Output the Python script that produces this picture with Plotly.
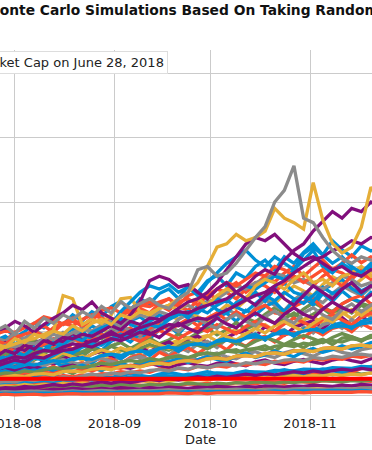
import pandas as pd
import plotly.graph_objects as go

# ---- data (values in billions of USD) ----
dates = pd.date_range("2018-07-26", periods=41, freq="3D")
month_ticks = ["2018-08-01", "2018-09-01", "2018-10-01", "2018-11-01"]
month_labels = ["2018-08", "2018-09", "2018-10", "2018-11"]
market_cap_june28 = 26

# low band
L1 = [22,24,23,27,25,28,26,31,29,32,30,34,33,37,35,38,36,41,39,42,40,45,43,46,44,49,47,50,48,53,51,54,52,57,55,58,56,61,59,62,60]
L2 = [18,19,21,20,21,23,22,24,24,26,24,27,27,26,29,29,28,31,31,30,33,33,32,35,35,34,37,37,36,39,39,38,41,41,40,43,43,42,45,45,44]
L3 = [14,15,14,17,15,17,16,19,17,19,18,21,19,21,20,23,21,23,22,25,23,25,24,27,25,27,26,29,27,29,28,31,29,31,30,33,31,33,32,35,33]
L4 = [12,11,13,12,14,13,15,14,13,15,14,16,15,17,16,15,17,16,18,17,19,18,17,19,18,20,19,21,20,19,21,20,22,21,23,22,21,23,22,24,23]
L5 = [8,9,8,10,9,8,10,9,11,10,9,11,10,12,11,10,12,11,13,12,11,13,12,14,13,12,14,13,15,14,13,15,14,16,15,14,16,15,17,16,15]
L6 = [5,6,5,6,7,6,5,6,7,6,7,8,7,6,7,8,7,8,9,8,7,8,9,8,9,10,9,8,9,10,9,10,11,10,9,10,11,10,11,12,11]
L7 = [3,3,4,3,4,4,3,4,5,4,4,5,4,5,5,4,5,6,5,5,6,5,6,6,5,6,7,6,6,7,6,7,7,6,7,8,7,7,8,7,8]
L8 = [1,2,1,2,2,1,2,2,3,2,2,3,2,3,3,2,3,3,4,3,3,4,3,4,4,3,4,4,5,4,4,5,4,5,5,4,5,5,6,5,5]
L9 = [30,32,31,35,33,36,34,39,37,40,38,43,44,42,47,45,48,51,49,52,55,53,57,58,56,61,62,60,65,66,64,69,70,68,73,74,72,77,78,76,80]
L10 = [42,45,44,49,47,50,54,52,57,58,56,62,64,62,67,69,67,73,75,73,78,80,78,84,86,84,89,91,89,95,97,95,100,102,100,106,108,106,111,113,112]
L11 = [32,35,34,38,36,39,43,41,45,43,46,50,48,52,54,52,57,55,59,61,59,64,66,64,69,67,71,73,71,76,78,76,81,79,83,85,83,88,86,90,92]
L12 = [20,22,21,25,23,26,24,29,27,30,33,31,35,33,37,35,39,40,38,43,41,45,43,47,48,46,51,49,53,51,55,56,54,59,57,61,59,63,64,62,66]
L13 = [26,28,31,29,33,34,32,37,38,36,41,42,40,45,46,44,49,50,48,53,54,52,57,58,56,61,62,60,65,66,64,69,70,68,73,74,72,77,78,76,80]
L14 = [10,12,11,14,12,14,17,15,18,16,18,21,19,22,20,22,25,23,26,24,26,29,27,30,28,30,33,31,34,32,34,37,35,38,36,38,41,39,42,40,42]

N1 = [85,92,80,88,97,90,84,95,103,96,108,99,112,120,110,104,115,125,118,130,122,135,128,140,148,137,130,142,155,147,160,150,143,155,168,158,165,175,162,170,178]
N2 = [70,64,75,82,74,79,88,81,72,80,86,94,87,98,90,84,93,101,95,88,97,105,99,110,103,96,107,115,108,100,111,120,113,106,118,126,117,110,121,128,120]
N3 = [60,66,58,63,70,65,72,67,61,68,74,69,76,71,65,73,79,74,70,77,83,78,72,80,86,81,76,84,90,85,79,87,93,88,82,90,96,91,86,93,95]
N4 = [50,56,52,48,57,63,58,66,60,55,64,71,66,74,68,78,85,79,73,82,90,84,92,99,91,86,96,104,97,108,115,106,100,112,121,114,126,133,124,135,140]
N5 = [48,44,50,53,49,46,52,56,51,48,54,58,53,50,57,61,55,52,59,63,58,55,62,66,60,57,64,68,62,59,66,70,65,61,68,72,67,64,71,74,75]
N6 = [40,43,38,42,45,41,39,44,47,42,40,45,48,44,42,47,50,46,43,48,51,47,45,50,53,49,46,52,55,50,48,53,56,52,49,55,58,54,51,57,60]
N7 = [35,38,34,40,37,42,39,36,43,47,42,39,46,50,45,49,54,48,52,57,51,55,60,56,53,61,66,59,63,69,64,60,68,73,67,71,77,72,76,82,85]
N8 = [22,24,21,23,25,22,24,26,23,25,27,24,26,28,25,27,29,26,28,30,27,29,31,28,30,32,29,31,33,30,32,34,31,33,35,32,34,36,33,35,35]
N9 = [16,18,17,15,19,21,18,20,23,21,19,23,25,22,24,27,25,23,27,30,27,25,30,33,30,28,32,35,32,30,35,38,35,33,38,41,38,36,42,45,48]
N10 = [6,7,6,8,7,6,8,9,7,8,9,8,10,9,8,10,11,9,10,11,10,12,11,10,12,13,11,12,13,12,14,13,12,14,15,13,14,15,14,13,14]
N11 = [90,84,96,88,100,94,86,98,92,104,97,90,102,110,100,94,108,116,106,99,112,120,110,104,118,126,115,108,122,131,120,112,128,136,125,118,133,142,130,140,150]
N12 = [75,82,74,70,80,88,79,84,93,86,80,91,99,90,96,106,97,90,102,112,104,98,110,120,111,105,118,128,119,112,126,136,126,120,134,145,136,130,145,156,165]
N13 = [28,26,29,31,28,30,32,29,27,30,33,30,28,31,34,31,29,33,36,33,30,34,37,34,31,35,38,35,33,37,40,37,34,38,41,38,36,40,43,40,40]
N14 = [12,13,11,14,13,12,15,14,13,16,14,13,16,15,17,16,15,18,16,15,18,17,19,18,17,20,19,18,21,20,19,22,21,20,23,22,21,24,23,22,25]

# middle band
M1 = [50,58,47,55,64,57,52,63,72,66,78,70,84,92,83,96,88,102,108,95,112,118,104,121,128,115,132,125,138,145,130,147,153,140,158,146,162,150,145,160,152]
M2 = [45,51,47,43,55,62,54,60,68,61,72,65,77,82,73,81,89,80,86,95,88,97,104,94,102,113,103,110,121,112,119,128,117,126,135,124,137,128,140,131,140]
M3 = [60,68,59,66,75,69,78,84,90,80,88,96,87,99,105,93,104,112,101,110,119,108,120,128,117,130,121,133,140,128,126,138,145,150,136,129,142,150,155,142,148]
M4 = [35,42,36,45,40,49,55,47,56,61,53,64,58,69,73,65,77,70,80,86,77,89,93,84,97,102,92,105,110,100,114,106,118,122,111,124,129,119,131,122,130]
M5 = [40,36,46,50,43,54,48,57,63,55,64,69,61,57,68,75,67,77,83,74,87,92,82,79,90,97,101,92,107,98,93,105,111,116,103,117,121,109,123,113,122]
M6 = [30,36,29,40,34,44,38,47,51,43,55,58,49,61,66,57,69,72,62,75,68,80,84,74,88,80,92,96,86,99,102,92,106,97,110,114,104,118,108,121,115]
M7 = [55,62,68,59,73,78,69,83,88,98,87,104,112,100,116,122,110,106,124,132,120,139,146,133,127,144,152,160,146,165,174,160,155,146,164,172,180,166,157,171,175]
M8 = [28,34,29,37,33,40,45,38,47,51,43,53,57,49,59,63,55,67,60,69,74,65,75,80,71,84,76,88,92,83,94,98,89,102,94,104,108,99,112,104,110]
M9 = [25,30,26,32,35,29,37,40,34,42,45,38,47,51,44,53,56,49,58,61,54,63,66,59,69,71,64,73,77,69,79,81,74,83,87,79,89,91,84,93,92]
M10 = [38,33,42,46,39,49,53,45,55,59,50,61,65,57,67,71,62,73,77,68,79,83,74,85,89,80,91,95,86,97,101,92,103,107,98,109,113,104,115,119,114]

# upper-middle
U1 = [95,104,90,99,112,105,118,110,125,116,130,122,138,146,132,150,142,158,165,150,170,160,178,186,170,190,182,200,210,194,215,205,222,235,218,240,226,215,232,224,230]
U2 = [80,88,95,86,100,108,98,112,120,106,118,128,120,112,126,135,128,142,150,138,132,148,158,150,165,175,160,172,185,176,190,200,185,198,210,195,205,218,206,215,210]
U3 = [65,72,80,74,66,78,86,95,88,80,92,102,96,110,118,105,99,112,124,118,130,122,115,128,140,135,148,160,150,142,158,170,162,155,172,184,176,168,180,192,185]
U4 = [70,76,68,79,86,80,74,84,92,87,95,88,98,106,99,93,104,113,106,100,110,120,112,106,118,127,120,114,126,136,128,122,134,144,136,130,142,150,143,138,150]
U5 = [55,62,70,64,58,68,78,72,84,92,86,80,94,104,96,88,100,112,104,118,126,116,108,122,134,126,120,136,148,140,132,148,160,152,144,158,170,162,155,168,170]

# upper, clearly visible paths
O2 = [85,80,90,95,100,92,105,112,108,118,125,120,115,125,130,138,145,140,132,145,150,140,155,165,160,150,165,175,170,160,175,185,178,170,185,195,190,180,195,200,190]
G2 = [70,78,75,82,80,88,95,90,98,105,100,110,115,108,118,125,120,130,125,135,140,132,145,150,160,170,165,175,180,190,185,175,180,170,165,175,185,180,170,175,180]
B2 = [40,45,52,48,58,55,62,70,66,75,80,78,88,95,90,100,110,105,118,125,130,128,140,150,145,160,170,165,175,185,180,195,210,225,200,190,205,195,185,200,195]
O1 = [95,100,98,105,112,122,118,110,115,108,120,132,136,128,135,140,138,145,150,140,155,160,150,165,175,170,180,190,185,200,195,185,175,185,195,180,170,185,190,180,185]
Y2 = [70,75,80,85,88,95,100,155,150,110,118,112,125,150,152,130,125,135,140,132,145,150,140,155,165,160,150,170,180,175,165,180,190,175,180,170,185,190,200,185,195]
B1 = [60,55,68,62,75,70,82,78,90,85,98,105,110,130,145,160,170,165,172,160,168,155,175,190,205,215,225,210,200,215,205,195,220,230,218,205,215,200,190,205,200]
P4 = [45,50,55,52,60,58,65,70,72,78,75,82,88,85,92,98,95,102,110,108,115,120,118,125,132,140,148,155,160,170,178,190,200,210,215,225,230,240,235,245,240]
P3 = [50,55,60,58,65,70,68,75,80,78,85,90,95,92,100,105,110,115,125,135,145,150,160,175,195,215,235,245,240,250,235,220,210,215,205,195,200,190,185,195,190]
P2 = [100,105,115,108,98,110,120,128,140,133,145,128,120,112,125,145,178,185,180,168,172,160,150,165,175,160,150,140,155,165,150,140,155,170,160,150,165,175,160,170,165]
P1 = [60,70,65,78,72,85,80,90,88,95,92,100,108,102,115,110,120,118,125,130,128,135,140,145,150,160,170,185,195,188,210,225,235,255,270,285,275,290,285,300,290]
Y1 = [80,75,88,82,95,90,100,95,108,100,112,118,110,125,120,130,128,135,140,150,160,175,200,230,235,250,240,245,255,290,275,268,258,330,272,236,221,230,261,323,300]
G1 = [100,108,95,115,104,120,112,125,118,130,122,138,128,145,135,142,150,140,135,150,160,195,200,185,190,205,225,245,262,300,318,356,275,268,245,225,212,205,215,210,205]

BLUE, RED, YEL, GRN, GRY, PUR = "#008fd5", "#fc4f30", "#e5ae38", "#6d904f", "#8b8b8b", "#810f7c"

series = [
    (U1, BLUE), (U2, RED), (U3, YEL), (U4, GRN), (U5, GRY),
    (M1, BLUE), (M2, GRN), (M3, RED), (M4, YEL), (M5, PUR), (M6, GRY), (M7, BLUE),
    (M8, RED), (M9, GRN), (M10, BLUE),
    (N1, BLUE), (N2, RED), (N3, GRN), (N4, YEL), (N5, GRY), (N6, PUR), (N7, BLUE),
    (N8, GRN), (N9, RED), (N10, YEL), (N11, GRY), (N12, PUR), (N13, BLUE), (N14, RED),
    (L1, RED), (L2, BLUE), (L3, YEL), (L4, GRN), (L5, PUR), (L6, GRY), (L7, BLUE),
    (L8, RED), (L9, RED), (L10, BLUE), (L11, GRN), (L12, GRY), (L13, YEL), (L14, PUR),
    (O2, RED), (G2, GRY), (B2, BLUE), (O1, RED), (Y2, YEL), (B1, BLUE), (P4, PUR),
    (P3, PUR), (P2, PUR), (P1, PUR), (Y1, YEL), (G1, GRY),
]

fig = go.Figure()
for ys, col in series:
    fig.add_trace(go.Scatter(x=dates, y=ys, mode="lines",
                             line=dict(color=col, width=3.3), showlegend=False,
                             hoverinfo="skip"))

fig.add_trace(go.Scatter(x=[dates[0], dates[-1]], y=[market_cap_june28] * 2, mode="lines",
                         line=dict(color="#ff0000", width=4), showlegend=False,
                         name="Market Cap on June 28, 2018"))

FONT = "DejaVu Sans"
fig.update_layout(
    width=372, height=450,
    margin=dict(l=0, r=0, t=50, b=40, autoexpand=False),
    paper_bgcolor="white", plot_bgcolor="white",
    font=dict(family=FONT, size=12.5, color="#222222"),
    xaxis=dict(type="date", range=["2018-07-27 08:00", "2018-11-20 08:00"],
               tickvals=month_ticks, ticktext=month_labels,
               showgrid=True, gridcolor="#cbcbcb", gridwidth=1.2,
               zeroline=False, showline=False, ticks="", automargin=False,
               ticklabeloverflow="allow", ticklabelstandoff=4,
               tickfont=dict(family=FONT, size=12.8, color="#222222")),
    yaxis=dict(range=[-22.5, 535.7], dtick=100, tick0=0, showgrid=True,
               gridcolor="#cbcbcb", gridwidth=1.2, zeroline=False, automargin=False,
               showticklabels=False, showline=False, ticks=""),
    annotations=[
        dict(text="<b>Monte Carlo Simulations Based On Taking Random Samples</b>",
             xref="paper", yref="paper", x=-16 / 372, y=1 + 40 / 360,
             xanchor="left", yanchor="middle", showarrow=False,
             font=dict(family=FONT, size=13.8, color="#111111")),
        dict(text="Market Cap on June 28, 2018",
             xref="paper", yref="paper", x=168 / 372, y=1 - 13 / 360,
             xanchor="right", yanchor="middle", showarrow=False,
             bgcolor="white", bordercolor="#dddddd", borderwidth=1, borderpad=3,
             font=dict(family=FONT, size=13, color="#222222")),
        dict(text="Date", xref="paper", yref="paper", x=200 / 372, y=-29 / 360,
             xanchor="center", yanchor="middle", showarrow=False,
             font=dict(family=FONT, size=13, color="#222222")),
    ],
)

fig.write_html("out.html", config={"displayModeBar": False},
               post_script="document.body.style.margin='0';document.body.style.overflow='hidden';")
